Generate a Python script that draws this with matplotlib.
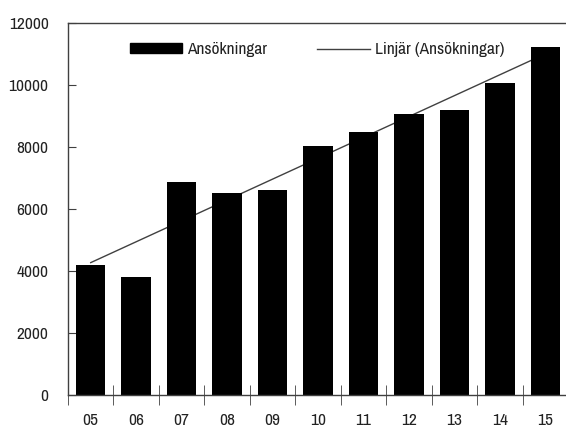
import matplotlib
matplotlib.use("Agg")
import matplotlib.pyplot as plt
import numpy as np
from matplotlib import font_manager as fm
from matplotlib.patches import Patch
from matplotlib.lines import Line2D

names = {f.name for f in fm.fontManager.ttflist}
fam = 'DejaVu Sans'
for cand in ['Liberation Sans Narrow', 'Arial Narrow', 'Archivo Narrow', 'Roboto Condensed',
             'Barlow Semi Condensed']:
    if cand in names:
        fam = cand
        break
plt.rcParams['font.family'] = [fam, 'DejaVu Sans']

categories = ['05', '06', '07', '08', '09', '10', '11', '12', '13', '14', '15']
ansokningar = [4180, 3820, 6860, 6520, 6600, 8020, 8470, 9070, 9200, 10050, 11210]
yticks = [0, 2000, 4000, 6000, 8000, 10000, 12000]

fs = 12.5
fig = plt.figure(figsize=(5.66, 4.28), dpi=100)
ax = fig.add_axes([68/566, 1-395/428, 500/566, (395-23)/428])

x = np.arange(len(categories))
ax.bar(x, ansokningar, width=0.65, color='black', zorder=2)
coef = np.polyfit(x, ansokningar, 1)
ax.plot(x, np.polyval(coef, x), color='#404040', lw=1.0, zorder=1.5)

ax.set_xlim(-0.5, len(categories) - 0.5)
ax.set_ylim(0, 12000)
ax.set_yticks(yticks)
ax.set_yticklabels([str(v) for v in yticks])
ax.set_xticks(x)
ax.set_xticklabels(categories)
ax.set_xticks(np.arange(-0.5, len(categories)), minor=True)
ax.tick_params(axis='x', which='major', length=0, pad=13, labelsize=fs, labelcolor='#222222')
ax.tick_params(axis='x', which='minor', length=14, direction='inout', color='#404040')
ax.tick_params(axis='y', which='major', length=6, direction='in', color='#404040', pad=14,
               labelsize=fs, labelcolor='#222222')
for s in ['left', 'bottom', 'top']:
    ax.spines[s].set_color('#404040')
    ax.spines[s].set_linewidth(1.0)
ax.spines['right'].set_visible(False)

handles = [Patch(facecolor='black', edgecolor='black'),
           Line2D([0], [0], color='#404040', lw=1.0)]
ax.legend(handles, ['Ansökningar', 'Linjär (Ansökningar)'], loc='upper center',
          bbox_to_anchor=(0.498, 0.99), ncol=2, frameon=False, fontsize=fs,
          handlelength=3.0, handleheight=0.46, handletextpad=0.3, columnspacing=2.9,
          labelcolor='#222222')

fig.savefig('out.png', dpi=100)
